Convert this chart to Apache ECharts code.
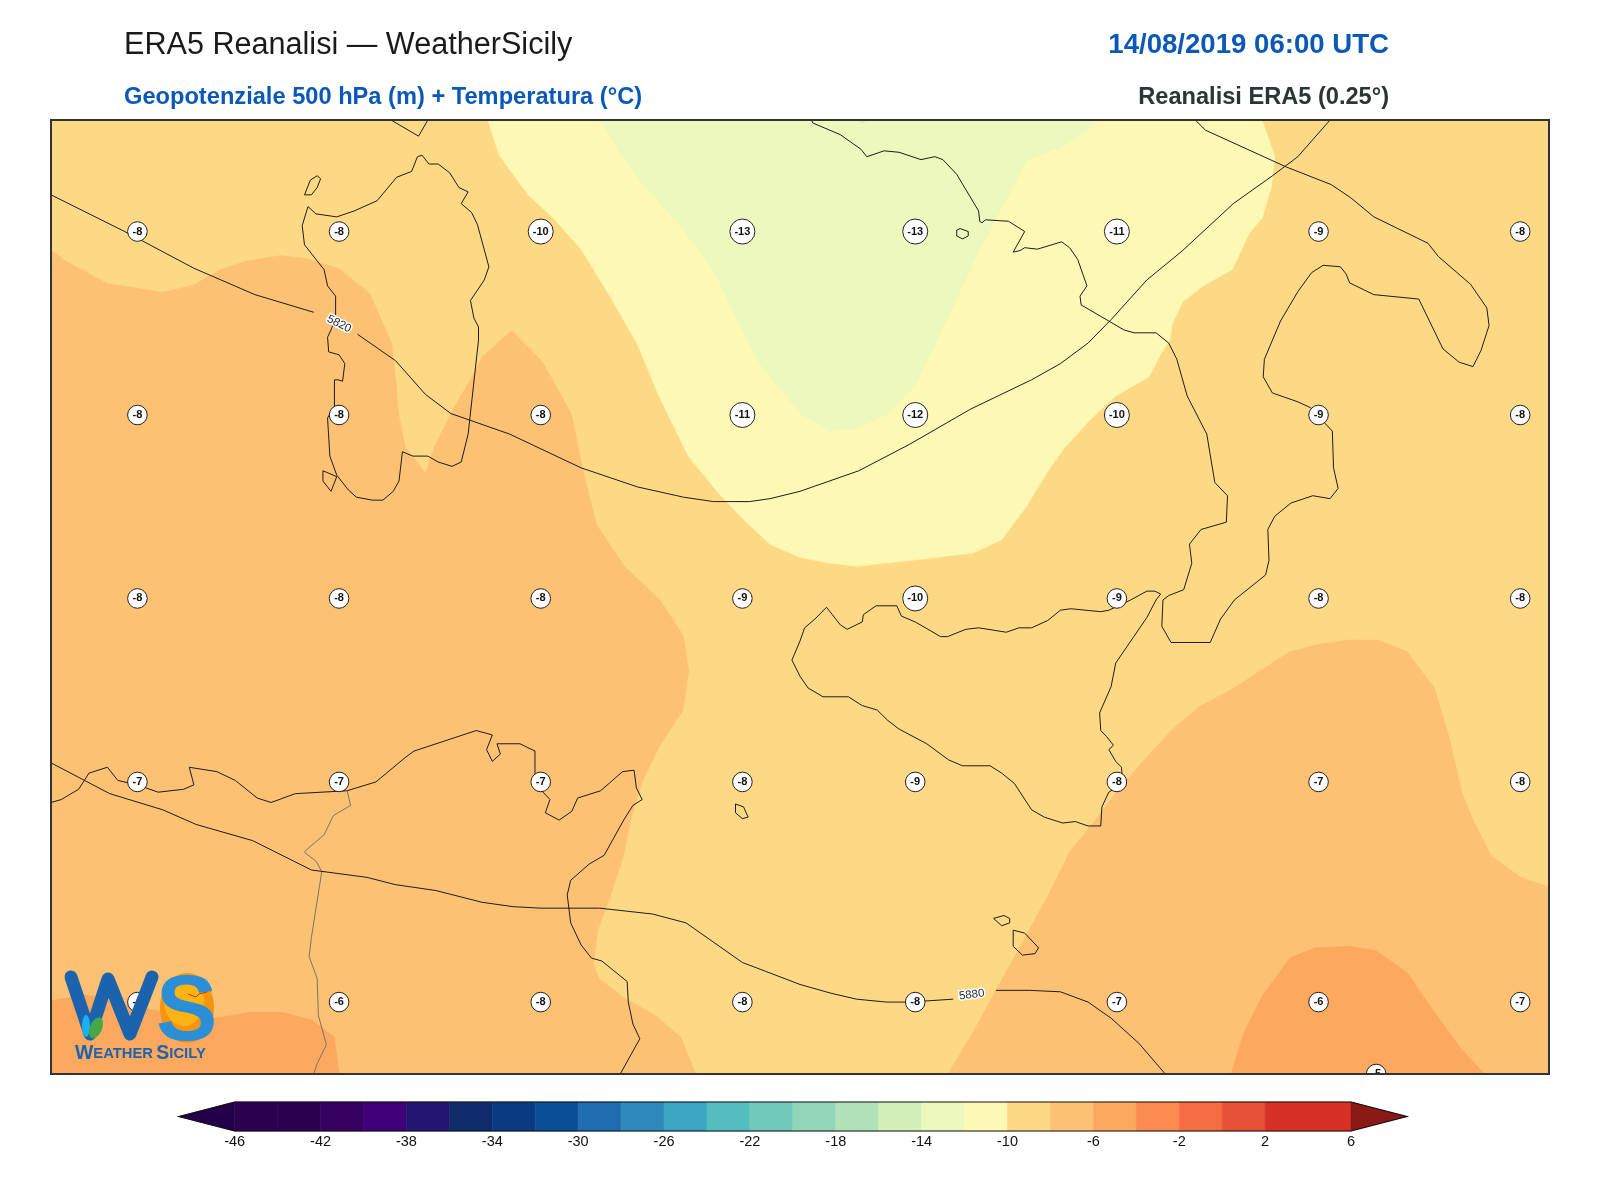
<!DOCTYPE html>
<html>
<head>
<meta charset="utf-8">
<title>ERA5 Reanalisi - WeatherSicily</title>
<script src="https://cdn.jsdelivr.net/npm/echarts@6/dist/echarts.min.js"></script>
<style>
    html, body { margin: 0; padding: 0; background: #fff; }
    #main { width: 1600px; height: 1200px; }
</style>
</head>
<body>
<div id="main"></div>
<script>
// temperature labels (lon / lat in degrees, values in C)
var labelLons = [ 6.75, 8.5, 10.25, 12, 13.5, 15.25, 17, 18.75 ];
var labelLats = [ 40.74, 39.49, 38.24, 36.99, 35.49 ];
var temps4075 = [ -8, -8, -10, -13, -13, -11, -9, -8 ];
var temps3950 = [ -8, -8, -8, -11, -12, -10, -9, -8 ];
var temps3825 = [ -8, -8, -8, -9, -10, -9, -8, -8 ];
var temps3700 = [ -7, -7, -7, -8, -9, -8, -7, -8 ];
var temps3550 = [ -6, -6, -8, -8, -8, -7, -6, -7 ];
var edgeLabel = [ 17.5, 35, -5 ];

// filled temperature bands
var band8to6 = [ [6,35],[19,35],[19,41.5],[6,41.5] ];
var band10to8 = [
    [6,40.62],[6.13,40.54],[6.49,40.39],[6.97,40.33],[7.24,40.38],[7.46,40.48],[7.68,40.54],[7.99,40.58],[8.21,40.56],[8.5,40.49],
    [8.77,40.32],[8.96,39.98],[9,39.71],[9.02,39.5],[9.08,39.27],[9.25,39.1],[9.32,39.27],[9.5,39.55],[9.65,39.75],[9.74,39.89],
    [10,40.07],[10.27,39.85],[10.52,39.5],[10.63,39.08],[10.74,38.74],[10.98,38.46],[11.29,38.23],[11.49,37.99],[11.54,37.75],[11.49,37.48],
    [11.29,37.24],[11.14,37],[11.04,36.74],[10.97,36.48],[10.85,36.19],[10.75,35.98],[10.71,35.75],[10.76,35.65],[10.98,35.52],[11.25,35.4],
    [11.47,35.25],[11.6,35],[13.78,35],[14,35.29],[14.23,35.62],[14.45,35.93],[14.67,36.25],[14.84,36.52],[15.07,36.74],[15.24,36.92],
    [15.47,37.13],[15.73,37.35],[15.97,37.51],[16.26,37.63],[16.51,37.76],[16.75,37.88],[16.99,37.93],[17.26,37.96],[17.52,37.96],[17.77,37.88],
    [18.01,37.63],[18.14,37.29],[18.25,36.92],[18.34,36.74],[18.5,36.49],[18.76,36.34],[19,36.28],[19,41.5],[6,41.5]
];
var band12to10 = [
    [9.79,41.5],[9.89,41.26],[10.14,40.99],[10.36,40.83],[10.6,40.62],[10.85,40.3],[11.09,39.97],[11.27,39.63],[11.53,39.21],[11.8,38.95],
    [12.02,38.77],[12.24,38.61],[12.5,38.52],[12.76,38.48],[12.99,38.46],[13.47,38.5],[14,38.55],[14.25,38.64],[14.45,38.85],[14.67,39.13],
    [14.8,39.27],[15.02,39.46],[15.24,39.62],[15.53,39.75],[15.64,39.92],[15.71,40],[15.73,40.11],[15.82,40.26],[16,40.37],[16.25,40.48],
    [16.4,40.73],[16.51,40.83],[16.59,41.04],[16.62,41.25],[16.51,41.5]
];
var band14to12 = [
    [10.77,41.5],[10.94,41.27],[11.14,41.06],[11.49,40.75],[11.76,40.46],[11.93,40.18],[12.15,39.84],[12.5,39.5],[12.76,39.38],[12.99,39.4],
    [13.25,39.49],[13.49,39.68],[13.63,39.9],[13.83,40.23],[14.03,40.57],[14.23,40.87],[14.47,41.22],[14.8,41.33],[14.98,41.42],[15.07,41.5]
];
var band16to14 = [ [12.99,41.5],[13.04,41.48],[13.11,41.5] ];
var band6to4West = [
    [6,35.5],[6.31,35.54],[6.66,35.47],[7.33,35.37],[7.73,35.42],[8.01,35.42],[8.26,35.37],[8.46,35.25],[8.5,35],[6,35]
];
var band6to4East = [
    [16.24,35],[16.35,35.28],[16.51,35.53],[16.75,35.79],[16.97,35.86],[17.28,35.87],[17.5,35.84],[17.77,35.69],[17.99,35.44],[18.23,35.18],[18.44,35]
];

// coastlines
var sardinia = [
    [8.23,40.91],[8.3,40.86],[8.48,40.84],[8.63,40.88],[8.83,40.95],[9,41.11],[9.13,41.15],[9.18,41.25],[9.22,41.26],[9.28,41.2],
    [9.36,41.2],[9.46,41.14],[9.54,41.04],[9.62,41.01],[9.56,40.93],[9.65,40.87],[9.7,40.79],[9.8,40.5],[9.76,40.41],[9.64,40.27],
    [9.67,40.15],[9.71,40.09],[9.71,40],[9.62,39.36],[9.56,39.17],[9.48,39.14],[9.36,39.17],[9.27,39.21],[9.14,39.21],[9.05,39.24],
    [9.02,39.04],[8.97,38.97],[8.88,38.91],[8.79,38.91],[8.65,38.93],[8.58,38.98],[8.48,39.08],[8.42,39.21],[8.4,39.47],[8.46,39.55],
    [8.46,39.73],[8.49,39.73],[8.53,39.72],[8.55,39.84],[8.5,39.9],[8.41,39.92],[8.4,40.02],[8.43,40.07],[8.47,40.15],[8.47,40.3],
    [8.4,40.37],[8.37,40.48],[8.2,40.65],[8.18,40.78],[8.23,40.91]
];
var corsica = [ [8.95,41.5],[9.19,41.39],[9.27,41.5] ];
var asinara = [ [8.2,40.99],[8.25,41.09],[8.31,41.12],[8.34,41.1],[8.31,41.04],[8.26,40.99],[8.2,40.99] ];
var santAntioco = [ [8.36,39.11],[8.48,39.07],[8.43,38.97],[8.36,39.04],[8.36,39.11] ];
var italy = [
    [12.6,41.5],[12.61,41.48],[12.85,41.4],[13.03,41.3],[13.08,41.25],[13.23,41.29],[13.36,41.28],[13.55,41.23],[13.67,41.25],[13.74,41.23],
    [13.86,41.13],[14.05,40.88],[14.06,40.81],[14.08,40.8],[14.11,40.82],[14.31,40.81],[14.45,40.74],[14.46,40.73],[14.35,40.6],[14.41,40.61],
    [14.45,40.63],[14.56,40.62],[14.77,40.67],[14.84,40.63],[14.91,40.55],[14.99,40.37],[14.93,40.3],[14.94,40.24],[15.18,40.13],[15.31,40.07],
    [15.4,40.05],[15.59,40.05],[15.7,39.98],[15.77,39.87],[15.86,39.62],[16.03,39.36],[16.1,39.03],[16.21,38.94],[16.2,38.76],[15.98,38.71],
    [15.88,38.61],[15.9,38.48],[15.83,38.3],[15.7,38.26],[15.65,38.23],[15.64,38.05],[15.72,37.94],[16.06,37.94],[16.15,38.1],[16.27,38.23],
    [16.54,38.4],[16.57,38.5],[16.56,38.71],[16.62,38.8],[16.76,38.89],[16.95,38.94],[17.1,38.92],[17.17,38.99],[17.13,39.13],[17.12,39.38],
    [17.06,39.43],[16.93,39.54],[16.82,39.58],[16.6,39.64],[16.52,39.75],[16.53,39.87],[16.67,40.13],[16.82,40.33],[16.94,40.46],[17.04,40.51],
    [17.19,40.5],[17.24,40.45],[17.27,40.39],[17.48,40.31],[17.87,40.28],[18.08,39.94],[18.22,39.85],[18.34,39.82],[18.41,39.93],[18.48,40.1],
    [18.46,40.22],[18.32,40.38],[18.04,40.57],[17.95,40.66],[17.48,40.84],[17.28,40.97],[17.11,41.06],[16.72,41.18],[16.02,41.43],[15.93,41.5]
];
var ponza = [ [13.86,40.75],[13.89,40.76],[13.96,40.74],[13.96,40.71],[13.91,40.69],[13.86,40.71],[13.86,40.75] ];
var sicily = [
    [12.54,38.04],[12.63,38.1],[12.73,38.18],[12.85,38.06],[12.91,38.03],[13.04,38.08],[13.05,38.13],[13.16,38.19],[13.34,38.19],[13.38,38.12],
    [13.5,38.08],[13.72,37.98],[13.78,37.98],[13.94,38.03],[14.05,38.04],[14.29,38.01],[14.4,38.04],[14.51,38.04],[14.65,38.09],[14.76,38.16],
    [14.85,38.17],[15.11,38.15],[15.18,38.16],[15.37,38.23],[15.51,38.29],[15.58,38.29],[15.63,38.27],[15.59,38.23],[15.51,38.11],[15.24,37.8],
    [15.2,37.64],[15.1,37.46],[15.11,37.34],[15.16,37.3],[15.22,37.24],[15.18,37.21],[15.24,37.13],[15.29,37.09],[15.3,36.98],[15.18,36.92],
    [15.12,36.82],[15.11,36.69],[15,36.69],[14.89,36.72],[14.78,36.71],[14.62,36.75],[14.51,36.8],[14.36,36.98],[14.25,37.05],[14.15,37.1],
    [13.91,37.1],[13.79,37.14],[13.6,37.25],[13.36,37.35],[13.26,37.41],[13.17,37.48],[13.04,37.51],[12.92,37.57],[12.7,37.57],[12.57,37.63],
    [12.5,37.71],[12.43,37.82],[12.5,37.95],[12.54,38.04]
];
var gozo = [ [14.18,36.06],[14.27,36.08],[14.32,36.06],[14.32,36.03],[14.25,36.01],[14.18,36.06] ];
var malta = [ [14.35,35.98],[14.45,35.96],[14.57,35.86],[14.54,35.82],[14.43,35.81],[14.35,35.87],[14.35,35.98] ];
var pantelleria = [ [11.94,36.84],[12.01,36.82],[12.05,36.75],[12,36.74],[11.94,36.78],[11.94,36.84] ];
var northAfrica = [
    [6,36.85],[6.09,36.87],[6.24,36.94],[6.33,37.05],[6.49,37.09],[6.58,37],[6.75,36.97],[6.93,36.92],[7.15,36.94],[7.24,36.97],
    [7.2,37.09],[7.44,37.06],[7.6,37],[7.79,36.88],[7.91,36.85],[8.12,36.91],[8.57,36.93],[8.82,36.99],[9.08,37.16],[9.15,37.2],
    [9.69,37.34],[9.83,37.31],[9.78,37.21],[9.83,37.13],[9.9,37.18],[9.87,37.25],[10.07,37.25],[10.2,37.2],[10.2,37],[10.27,36.92],
    [10.33,36.87],[10.29,36.78],[10.41,36.73],[10.52,36.79],[10.57,36.88],[10.77,36.93],[10.96,37.06],[11.06,37.07],[11.08,36.95],[11.13,36.87],
    [11.05,36.83],[10.97,36.73],[10.8,36.49],[10.67,36.43],[10.51,36.32],[10.48,36.22],[10.51,36.03],[10.6,35.88],[10.69,35.79],[10.78,35.77],
    [11,35.63],[11.01,35.49],[11.05,35.34],[11.11,35.24],[10.94,35]
];
var border = [
    [8.57,36.93],[8.6,36.83],[8.45,36.76],[8.37,36.63],[8.22,36.53],[8.2,36.51],[8.3,36.45],[8.35,36.38],[8.26,35.93],[8.24,35.8],
    [8.31,35.65],[8.32,35.4],[8.39,35.2],[8.31,35.07],[8.28,35]
];

// geopotential isolines, '-' leaves the gap round the value label
var iso5820 = [
    [6,40.99],[6.64,40.74],[7.24,40.49],[7.77,40.31],[8.28,40.19],['-','-'],[8.66,40.04],[8.99,39.86],[9.25,39.63],[9.47,39.5],[9.98,39.36],
    [10.6,39.13],[11.09,39],[11.49,38.93],[11.75,38.9],[12.06,38.9],[12.24,38.92],[12.5,38.97],[13.01,39.11],[13.45,39.29],[13.98,39.53],
    [14.51,39.73],[14.76,39.84],[15,39.98],[15.2,40.14],[15.51,40.41],[15.82,40.61],[16.26,40.93],[16.6,41.12],[16.82,41.25],[17.1,41.5]
];
var iso5880 = [
    [6,37.12],[6.51,36.91],[6.97,36.8],[7.26,36.7],[7.75,36.59],[8.26,36.39],[8.74,36.34],[8.99,36.29],[9.34,36.25],[9.74,36.17],
    [10.01,36.14],[10.25,36.13],[10.76,36.13],[11.22,36.09],[11.51,36.03],[12,35.76],[12.2,35.7],[12.5,35.61],[12.77,35.55],[12.99,35.51],
    [13.25,35.49],[13.45,35.49],[13.83,35.51],['-','-'],[14.2,35.57],[14.49,35.57],[14.76,35.56],[15,35.49],[15.2,35.38],[15.44,35.21],[15.67,35]
];
var isoLabels = [ [ 8.5, 40.11, '5820', -27 ], [ 13.99, 35.54, '5880', 7 ] ];

// colour bar
var barTicks = [ -46, -42, -38, -34, -30, -26, -22, -18, -14, -10, -6, -2, 2, 6 ];
var barEdges = [ -46, -44, -42, -40, -38, -36, -34, -32, -30, -28, -26, -24, -22, -20, -18, -16, -14, -12, -10, -8, -6, -4, -2, 0, 2, 4, 6 ];
var barColors = [
    '#2b004f', '#2b004f', '#35005f', '#3f0077', '#241572', '#0f2b6b', '#0a3b80', '#094e96', '#1f6db0', '#2e88bb',
    '#3aa6c3', '#55bcc0', '#73c9bc', '#92d5b9', '#b2e2b8', '#d3efb9', '#ecf8bc', '#fef8b5', '#fed985', '#fdc173',
    '#fca85f', '#fb8b50', '#f46d43', '#e75135', '#d73027', '#d73027'
];
var underColor = '#25004a';
var overColor = '#8b1a16';
var underTip = [ [-46,1],[-48.6,0.5],[-46,0] ];
var overTip = [ [6,1],[8.6,0.5],[6,0] ];
var barOutline = [ [-48.6,0.5],[-46,1],[6,1],[8.6,0.5],[6,0],[-46,0] ];

var fontName = '"Liberation Sans", Arial, sans-serif';

// one filled polygon, through the axes of the given grid
function polygonSeries( points, fill, axisIndex, z, stroke ) {
    return {
        type: 'custom',
        coordinateSystem: 'cartesian2d',
        xAxisIndex: axisIndex,
        yAxisIndex: axisIndex,
        silent: true,
        z: z,
        data: points,
        encode: { x: 0, y: 1 },
        renderItem: function( params, api ) {
            if ( params.context.rendered ) {
                return;
            }
            params.context.rendered = true;
            return {
                type: 'polygon',
                shape: { points: points.map( function( p ) { return api.coord( p ); } ) },
                style: { fill: fill, stroke: stroke || fill, lineWidth: stroke ? 1.2 : 0.5 }
            };
        }
    };
}

function lineSeries( points, color, width, z ) {
    return {
        type: 'line',
        data: points,
        showSymbol: false,
        silent: true,
        z: z,
        lineStyle: { color: color, width: width }
    };
}

var series = [];

series.push( polygonSeries( band8to6, barColors[ 19 ], 0, 1 ) );
series.push( polygonSeries( band10to8, barColors[ 18 ], 0, 1 ) );
series.push( polygonSeries( band12to10, barColors[ 17 ], 0, 1 ) );
series.push( polygonSeries( band14to12, barColors[ 16 ], 0, 1 ) );
series.push( polygonSeries( band16to14, barColors[ 15 ], 0, 1 ) );
series.push( polygonSeries( band6to4West, barColors[ 20 ], 0, 1 ) );
series.push( polygonSeries( band6to4East, barColors[ 20 ], 0, 1 ) );

[ sardinia, corsica, asinara, santAntioco, italy, ponza, sicily, gozo, malta, pantelleria, northAfrica ].forEach( function( coast ) {
    series.push( lineSeries( coast, '#1c1c1c', 1, 3 ) );
} );
series.push( lineSeries( border, '#77746c', 1, 3 ) );
series.push( lineSeries( iso5820, '#1c1c1c', 1, 4 ) );
series.push( lineSeries( iso5880, '#1c1c1c', 1, 4 ) );

// isoline values
series.push( {
    type: 'custom',
    silent: true,
    z: 5,
    data: isoLabels,
    encode: { x: 0, y: 1 },
    renderItem: function( params, api ) {
        var item = isoLabels[ params.dataIndex ];
        var pos = api.coord( [ item[ 0 ], item[ 1 ] ] );
        return {
            type: 'text',
            x: pos[ 0 ],
            y: pos[ 1 ],
            rotation: item[ 3 ] * Math.PI / 180,
            style: {
                text: item[ 2 ],
                align: 'center',
                verticalAlign: 'middle',
                font: '11.5px ' + fontName,
                fill: '#1c2233',
                stroke: '#fff',
                lineWidth: 3
            }
        };
    }
} );

// temperature bubbles, clipped at the frame
var tempData = [];
[ temps4075, temps3950, temps3825, temps3700, temps3550 ].forEach( function( row, r ) {
    row.forEach( function( v, c ) {
        tempData.push( [ labelLons[ c ], labelLats[ r ], v ] );
    } );
} );
tempData.push( edgeLabel );

series.push( {
    type: 'custom',
    silent: true,
    clip: true,
    z: 6,
    data: tempData,
    encode: { x: 0, y: 1 },
    renderItem: function( params, api ) {
        var pos = api.coord( [ api.value( 0 ), api.value( 1 ) ] );
        var text = String( api.value( 2 ) );
        return {
            type: 'group',
            children: [ {
                type: 'circle',
                shape: { cx: pos[ 0 ], cy: pos[ 1 ], r: text.length > 2 ? 12.5 : 9.8 },
                style: { fill: '#fff', stroke: '#222', lineWidth: 1 }
            }, {
                type: 'text',
                style: {
                    x: pos[ 0 ],
                    y: pos[ 1 ],
                    text: text,
                    align: 'center',
                    verticalAlign: 'middle',
                    font: 'bold 11px ' + fontName,
                    fill: '#111'
                }
            } ]
        };
    }
} );

// colour bar cells
var barData = barColors.map( function( c, i ) {
    return [ barEdges[ i ], barEdges[ i + 1 ] ];
} );
series.push( {
    type: 'custom',
    xAxisIndex: 1,
    yAxisIndex: 1,
    silent: true,
    z: 2,
    data: barData,
    encode: { x: [ 0, 1 ] },
    renderItem: function( params, api ) {
        var a = api.coord( [ api.value( 0 ), 1 ] );
        var b = api.coord( [ api.value( 1 ), 0 ] );
        return {
            type: 'rect',
            shape: { x: a[ 0 ], y: a[ 1 ], width: b[ 0 ] - a[ 0 ], height: b[ 1 ] - a[ 1 ] },
            style: { fill: barColors[ params.dataIndex ], stroke: barColors[ params.dataIndex ], lineWidth: 0.6 }
        };
    }
} );
series.push( polygonSeries( underTip, underColor, 1, 2 ) );
series.push( polygonSeries( overTip, overColor, 1, 2 ) );
series.push( polygonSeries( barOutline, 'transparent', 1, 3, '#111' ) );

var option = {
    animation: false,
    backgroundColor: '#fff',
    title: [ {
        text: 'ERA5 Reanalisi — WeatherSicily',
        left: 124,
        top: 30,
        padding: 0,
        textStyle: { fontFamily: fontName, fontSize: 30.6, fontWeight: 'normal', color: '#1a1a1a' }
    }, {
        text: 'Geopotenziale 500 hPa (m) + Temperatura (°C)',
        left: 124,
        top: 85,
        padding: 0,
        textStyle: { fontFamily: fontName, fontSize: 23.65, fontWeight: 'bold', color: '#0a58b8' }
    }, {
        text: '14/08/2019 06:00 UTC',
        right: 211,
        top: 31,
        padding: 0,
        textStyle: { fontFamily: fontName, fontSize: 27.6, fontWeight: 'bold', color: '#0a58b8' }
    }, {
        text: 'Reanalisi ERA5 (0.25°)',
        right: 211,
        top: 85,
        padding: 0,
        textStyle: { fontFamily: fontName, fontSize: 23.6, fontWeight: 'bold', color: '#2d3436' }
    } ],
    grid: [
        { left: 51, top: 120, width: 1498, height: 954 },
        { left: 234.7, top: 1102, width: 1116.3, height: 29 }
    ],
    xAxis: [ {
        type: 'value',
        min: 6,
        max: 19,
        show: false
    }, {
        type: 'value',
        gridIndex: 1,
        min: -46,
        max: 6,
        interval: 4,
        splitLine: { show: false },
        axisLine: { show: false },
        axisTick: { show: false },
        axisLabel: { fontFamily: fontName, fontSize: 14.5, color: '#111', margin: 3, hideOverlap: false,
            customValues: barTicks }
    } ],
    yAxis: [ {
        type: 'value',
        min: 35,
        max: 41.5,
        show: false
    }, {
        type: 'value',
        gridIndex: 1,
        min: 0,
        max: 1,
        show: false
    } ],
    series: series,
    graphic: [
        // map frame
        { type: 'rect', z: 50, silent: true, shape: { x: 51, y: 120, width: 1498, height: 954 },
            style: { fill: 'none', stroke: '#333', lineWidth: 2 } },
        // Weather Sicily logo
        { type: 'ellipse', z: 100, silent: true, shape: { cx: 187, cy: 1008, rx: 27, ry: 35 }, style: { fill: '#f5950f' } },
        { type: 'ellipse', z: 100, silent: true, shape: { cx: 184, cy: 1001, rx: 20, ry: 25 }, style: { fill: '#fdb410' } },
        { type: 'polyline', z: 101, silent: true,
            shape: { points: [ [ 71, 977 ], [ 90, 1034 ], [ 108, 979 ], [ 130, 1034 ], [ 152, 977 ] ] },
            style: { stroke: '#1c63ad', lineWidth: 13, lineCap: 'round', lineJoin: 'round', fill: 'none' } },
        { type: 'text', z: 102, silent: true, x: 156, y: 1014.5,
            style: { text: 'S', font: 'bold 92px ' + fontName, fill: '#2b8ed6', verticalAlign: 'middle' } },
        { type: 'ellipse', z: 103, silent: true, shape: { cx: 96, cy: 1028, rx: 6, ry: 11 }, rotation: -0.4, originX: 96, originY: 1028,
            style: { fill: '#45a846' } },
        { type: 'ellipse', z: 102, silent: true, shape: { cx: 86, cy: 1026, rx: 4, ry: 11 }, style: { fill: '#1bb0ef' } },
        { type: 'polyline', z: 104, silent: true, shape: { points: [ [ 188, 994 ], [ 196, 997 ], [ 199, 994 ], [ 207, 992 ] ] },
            style: { stroke: '#c8322a', lineWidth: 1, fill: 'none' } },
        { type: 'text', z: 101, silent: true, x: 75, y: 1054,
            style: {
                text: '{a|W}{b|EATHER} {a|S}{b|ICILY}',
                verticalAlign: 'middle',
                rich: {
                    a: { font: 'bold 19.4px ' + fontName, fill: '#1c63ad' },
                    b: { font: 'bold 14.8px ' + fontName, fill: '#1c63ad' }
                }
            } }
    ]
};

var myChart = echarts.init( document.getElementById( 'main' ) );
myChart.setOption( option );
</script>
</body>
</html>
